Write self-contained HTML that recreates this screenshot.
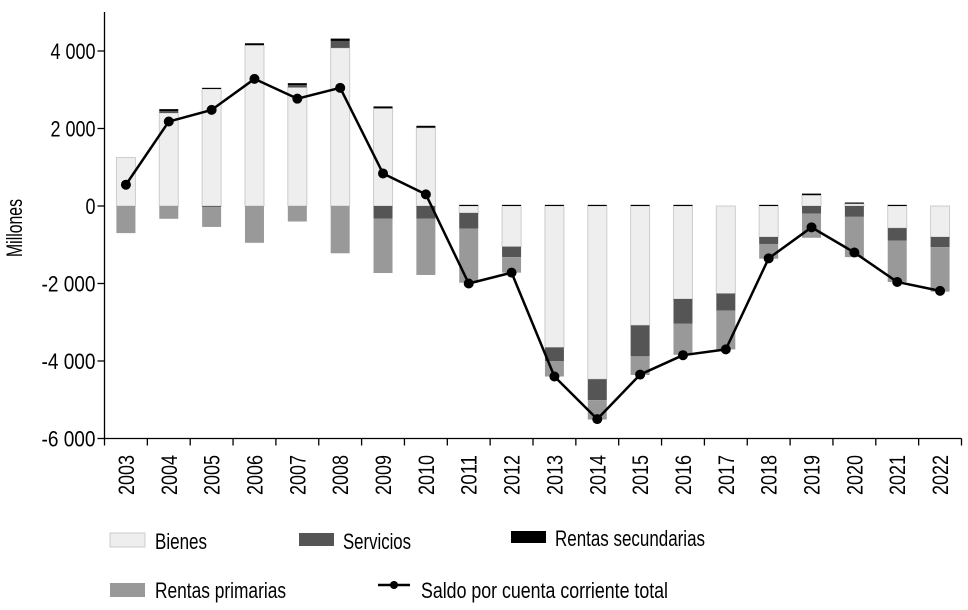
<!DOCTYPE html>
<html><head><meta charset="utf-8"><style>
html,body{margin:0;padding:0;background:#fff;}
svg{display:block;font-family:"Liberation Sans Narrow","Liberation Sans",sans-serif;}
</style></head><body>
<svg id="chart" width="968" height="610" viewBox="0 0 968 610">
<g id="plot"></g>
<g id="axes"></g>
<g id="legend">
  <rect x="110" y="533" width="35" height="14" fill="#eeeeee" stroke="#cccccc"/>
  <text x="155" y="549" font-size="22" textLength="52" lengthAdjust="spacingAndGlyphs">Bienes</text>
  <rect x="299" y="533" width="35" height="13" fill="#555555"/>
  <text x="343" y="549" font-size="22" textLength="68" lengthAdjust="spacingAndGlyphs">Servicios</text>
  <rect x="511" y="531" width="35" height="12" fill="#000000"/>
  <text x="555" y="546" font-size="22" textLength="150" lengthAdjust="spacingAndGlyphs">Rentas secundarias</text>
  <rect x="110" y="583" width="35" height="14" fill="#999999"/>
  <text x="155" y="598" font-size="22" textLength="131" lengthAdjust="spacingAndGlyphs">Rentas primarias</text>
  <line x1="378" y1="585" x2="410" y2="585" stroke="#000" stroke-width="2.5"/>
  <circle cx="394" cy="585" r="4" fill="#000"/>
  <text x="421" y="598" font-size="22" textLength="247" lengthAdjust="spacingAndGlyphs">Saldo por cuenta corriente total</text>
</g>
</svg>
<script>
const years = ["2003","2004","2005","2006","2007","2008","2009","2010","2011","2012","2013","2014","2015","2016","2017","2018","2019","2020","2021","2022"];
const bienes = [1250,2400,3020,4150,3060,4080,2520,2020,-180,-1050,-3650,-4470,-3080,-2400,-2260,-800,280,60,-570,-800];
const servicios = [0,50,-20,0,60,180,-330,-330,-400,-270,-350,-540,-800,-640,-440,-180,-200,-280,-320,-260];
const secundarias = [0,50,30,50,50,60,50,50,30,30,30,30,30,30,0,30,40,30,30,0];
const primarias = [-700,-330,-520,-950,-400,-1220,-1400,-1450,-1400,-400,-400,-500,-480,-800,-1000,-380,-620,-1040,-1070,-1150];
const saldo = [550,2180,2480,3280,2770,3050,840,300,-2000,-1720,-4400,-5500,-4350,-3850,-3700,-1350,-550,-1200,-1960,-2190];
const yTicks = [4000,2000,0,-2000,-4000,-6000];
const yTickLabels = ["4 000","2 000","0","-2 000","-4 000","-6 000"];

const NS = "http://www.w3.org/2000/svg";
const X0 = 104.5, X1 = 961.5, Y0 = 206, K = 0.03875, BW = 19;
const step = (X1 - X0) / years.length;
function xc(i){ return X0 + step * (i + 0.5); }
function y(v){ return Y0 - v * K; }
function mk(tag, attrs, parent){
  const e = document.createElementNS(NS, tag);
  for (const k in attrs) e.setAttribute(k, attrs[k]);
  parent.appendChild(e);
  return e;
}
const plot = document.getElementById("plot");
const axes = document.getElementById("axes");
const colors = {bienes:"#eeeeee", servicios:"#555555", secundarias:"#000000", primarias:"#999999"};

years.forEach((yr, i) => {
  let pos = 0, neg = 0;
  const parts = [["bienes", bienes[i]], ["servicios", servicios[i]], ["secundarias", secundarias[i]], ["primarias", primarias[i]]];
  parts.forEach(([name, v]) => {
    if (!v) return;
    let a, b;
    if (v > 0) { a = pos; b = pos + v; pos = b; } else { a = neg; b = neg + v; neg = b; }
    const top = y(Math.max(a, b)), bot = y(Math.min(a, b));
    const r = mk("rect", {x: xc(i) - BW / 2, y: top, width: BW, height: Math.max(bot - top, 1), fill: colors[name]}, plot);
    if (name === "bienes") { r.setAttribute("stroke", "#cccccc"); r.setAttribute("stroke-width", "1"); }
    
    
  });
});
const pts = saldo.map((v, i) => xc(i) + "," + y(v)).join(" ");
const line = mk("polyline", {points: pts, fill: "none", stroke: "#000", "stroke-width": 2.5, "stroke-linejoin": "round"}, plot);


saldo.forEach((v, i) => {
  const c = mk("circle", {cx: xc(i), cy: y(v), r: 5, fill: "#000"}, plot);
  
  
});

const ya = mk("line", {x1: X0, y1: 12, x2: X0, y2: y(-6000), stroke: "#000", "stroke-width": 1.3}, axes);


const xa = mk("line", {x1: X0, y1: y(-6000), x2: X1, y2: y(-6000), stroke: "#000", "stroke-width": 1.3}, axes);


yTicks.forEach((v, i) => {
  const t = mk("line", {x1: X0 - 7, y1: y(v), x2: X0, y2: y(v), stroke: "#000", "stroke-width": 1.3}, axes);
  
  
  const lab = yTickLabels[i];
  const w = lab.length * 9 + (lab.length > 1 ? 0 : 1);
  const tx = mk("text", {x: X0 - 9, y: y(v) + 8, "font-size": 22, "text-anchor": "end", textLength: w, lengthAdjust: "spacingAndGlyphs"}, axes);
  tx.textContent = lab;
  
  
});
for (let i = 0; i <= years.length; i++) {
  const xx = X0 + step * i;
  const t = mk("line", {x1: xx, y1: y(-6000), x2: xx, y2: y(-6000) + 7, stroke: "#000", "stroke-width": 1.3}, axes);
  
  
}
years.forEach((yr, i) => {
  const tx = mk("text", {x: 0, y: 0, "font-size": 22, "text-anchor": "end", textLength: 40, lengthAdjust: "spacingAndGlyphs",
    transform: "translate(" + (xc(i) + 8) + "," + 455 + ") rotate(-90)"}, axes);
  tx.textContent = yr;
  
  
});
const yt = mk("text", {x: 0, y: 0, "font-size": 22, "text-anchor": "middle", textLength: 58, lengthAdjust: "spacingAndGlyphs",
  transform: "translate(22,228) rotate(-90)"}, axes);
yt.textContent = "Millones";


</script>
</body></html>
